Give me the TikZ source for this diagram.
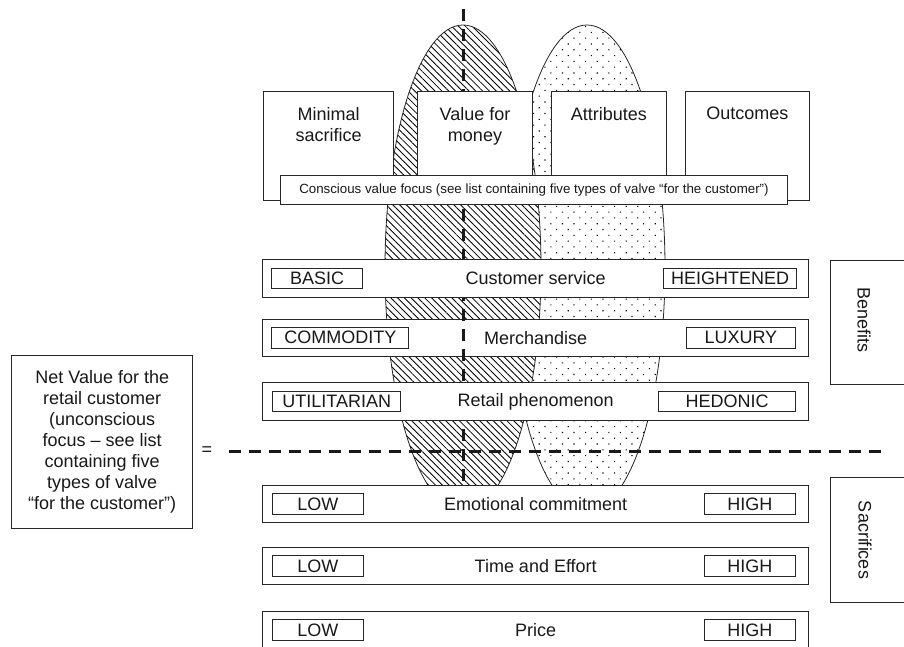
\documentclass[tikz,border=0pt]{standalone}
\usepackage{fontspec}
\setmainfont{Liberation Sans}
\usetikzlibrary{positioning,patterns.meta}
\newcommand{\txtbig}{\fontsize{18}{21}\selectfont}
\newcommand{\txtsmall}{\fontsize{13.3}{16}\selectfont}

\begin{document}
\begin{tikzpicture}[x=1pt, y=-1pt]
  \tikzset{box/.style={draw=black!85, line width=1pt, fill=white, inner sep=0pt, text=black!90},
    topbox/.style={box, minimum height=108.3pt},
    toptext/.style={align=center, font=\txtbig, inner sep=0pt, text=black!90},
    rowbox/.style={box, minimum width=546.5pt, minimum height=37.5pt, font=\txtbig},
    tagbox/.style={box, minimum height=20.5pt, font=\txtbig},
    sidebox/.style={box, minimum width=90pt},
    sidetext/.style={rotate=-90, font=\txtbig, text=black!90},
    divider/.style={line width=2.5pt, black!90, dash pattern=on 11.7pt off 8.3pt},
    lens/.style={draw=black!85, line width=0.8pt, preaction={fill=white}}}
  \useasboundingbox (0,0) rectangle (904,647);
  \clip (0,0) rectangle (904,647);
  \path[lens, pattern={Dots[angle=45, distance=8.2pt, radius=0.8pt]}] (587,268) ellipse [x radius=78, y radius=243];
  \path[lens, pattern={Lines[angle=-45, distance=4.8pt, line width=0.85pt]}] (463,268) ellipse [x radius=78, y radius=243];
  \node[rowbox] (merch) at (535.7,337.8) {Merchandise};
  \node[tagbox, minimum width=137pt, right=9.5pt of merch.west] (commodity) {COMMODITY};
  \node[tagbox, minimum width=109pt, left=13.6pt of merch.east] (luxury) {LUXURY};
  \coordinate (vtop) at (463.7,9.3);
  \coordinate (vbot) at (463.7,485);
  \draw[divider] (vtop) -- (vbot);
  \node[font=\txtbig, inner sep=0pt, text=black!90] (equals) at (207,451.5) {=};
  \coordinate (hstart) at (229,451.5);
  \coordinate (hend) at (885,451.5);
  \draw[divider] (hstart) -- (hend);
  % conscious focus
  \node[topbox, minimum width=130pt] (minimal) at (328.6,145.85) {};
  \node[toptext, below=16pt] at (minimal.north) {Minimal\\sacrifice};
  \node[topbox, minimum width=114.2pt] (money) at (475,145.85) {};
  \node[toptext, below=16pt] at (money.north) {Value for\\money};
  \node[topbox, minimum width=114.2pt] (attributes) at (608.9,145.85) {};
  \node[toptext, below=16pt] at (attributes.north) {Attributes};
  \node[topbox, minimum width=123.3pt] (outcomes) at (747.4,145.85) {};
  \node[toptext, below=16pt] at (outcomes.north) {Outcomes};
  \node[box, minimum width=507.1pt, minimum height=28.3pt, font=\txtsmall] (conscious) at (533.95,189.85) {Conscious value focus (see list containing five types of valve “for the customer”)};
  % benefits
  \node[rowbox] (service) at (535.7,278.35) {Customer service};
  \node[tagbox, minimum width=90.5pt, right=9.5pt of service.west] (basic) {BASIC};
  \node[tagbox, minimum width=132.4pt, left=12.6pt of service.east] (heightened) {HEIGHTENED};
  \node[rowbox] (retail) at (535.7,401.35) {Retail phenomenon};
  \node[tagbox, minimum width=127.8pt, right=10.4pt of retail.west] (utilitarian) {UTILITARIAN};
  \node[tagbox, minimum width=136.4pt, left=13.6pt of retail.east] (hedonic) {HEDONIC};
  % sacrifices
  \node[rowbox] (emotion) at (535.7,503.85) {Emotional commitment};
  \node[tagbox, minimum width=91pt, right=10pt of emotion.west] (lowemotion) {LOW};
  \node[tagbox, minimum width=91pt, left=13.6pt of emotion.east] (highemotion) {HIGH};
  \node[rowbox] (effort) at (535.7,565.85) {Time and Effort};
  \node[tagbox, minimum width=91pt, right=10pt of effort.west] (loweffort) {LOW};
  \node[tagbox, minimum width=91pt, left=13.6pt of effort.east] (higheffort) {HIGH};
  \node[rowbox] (price) at (535.7,630) {Price};
  \node[tagbox, minimum width=91pt, right=10pt of price.west] (lowprice) {LOW};
  \node[tagbox, minimum width=91pt, left=13.6pt of price.east] (highprice) {HIGH};
  \node[box, minimum width=181pt, minimum height=173.3pt, align=center, font=\txtbig] (netvalue) at (102.2,441.65) {Net Value for the\\retail customer\\(unconscious\\focus – see list\\containing five\\types of valve\\“for the customer”)};
  \node[sidebox, minimum height=124pt] (benefits) at (875,322) {};
  \node[sidetext] (benefitslabel) at (864,320) {Benefits};
  \node[sidebox, minimum height=125pt] (sacrifices) at (875,539.5) {};
  \node[sidetext] (sacrificeslabel) at (865,540) {Sacrifices};
\end{tikzpicture}
\end{document}
